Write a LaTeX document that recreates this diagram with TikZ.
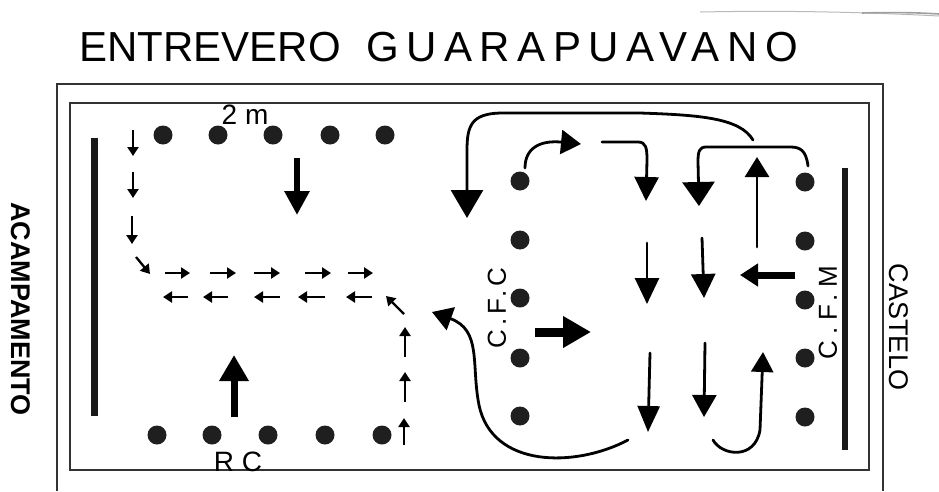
\documentclass[tikz,border=0pt]{standalone}
\usepackage{fontspec}
\setmainfont{Liberation Sans}
\usetikzlibrary{arrows.meta}

\tikzset{
  frameline/.style={line width=1.3pt, black!80},
  sideline/.style={line width=7pt, line cap=butt, black!90},
  player/.style={circle, fill=black!88, minimum size=19pt, inner sep=0pt},
  hand/.style={font=\fontsize{28}{30}\selectfont},
  sidelabel/.style={font=\fontsize{27}{29}\selectfont},
  tiny/.style={line width=2.3pt, -{Triangle[length=9pt,width=11pt]}},
  run/.style={line width=2.8pt, line cap=round},
}

\begin{document}
\begin{tikzpicture}[x=1pt, y=-1pt]
\useasboundingbox (0,0) rectangle (939,491);

% stray pencil strokes in the top corner
\draw[gray!55, line width=1pt] (700,12) .. controls (800,10) and (880,13) .. (939,16);
\draw[gray!75, line width=1.6pt] (862,13) .. controls (900,12) and (925,13) .. (939,14);

% title
\node[font=\fontsize{42}{46}\selectfont] (t1) at (210,47) {ENTREVERO};
\node[font=\fontsize{42}{46}\selectfont\addfontfeature{LetterSpace=18}] (t2) at (582,47) {GUARAPUAVANO};

% frames
\draw[frameline] (57,491) -- (57,84) -- (883,84) -- (883,491);
\draw[frameline] (70,103) rectangle (869,470);

% end lines
\draw[sideline] (94,138) -- (94,416);
\draw[sideline, line width=6pt] (845,168) -- (845,450);

% side labels
\node[sidelabel, font=\fontsize{27}{29}\selectfont\bfseries, rotate=-90] (acamp) at (21,309) {ACAMPAMENTO};
\node[sidelabel, rotate=-90] (cast) at (899,327) {CASTELO};

% players
\foreach \x [count=\i] in {163,218,273,330,385}
  \node[player] (m\i) at (\x,135) {};
\foreach \x [count=\i] in {157,212,268,325,382}
  \node[player] (r\i) at (\x,435) {};
\foreach \y [count=\i] in {181,240,298,358,416}
  \node[player] (cf\i) at (520,\y) {};
\foreach \y [count=\i] in {182,241,300,358,417}
  \node[player] (cm\i) at (805,\y) {};

% group labels
\node[hand] (lm) at (245,115) {2\hspace{8pt}m};
\node[hand] (lrc) at (238,462) {R C};
\node[hand, font=\fontsize{26}{28}\selectfont\addfontfeature{LetterSpace=15}, rotate=90] (lcfc) at (497,308) {C.F.C};
\node[hand, font=\fontsize{26}{28}\selectfont\addfontfeature{LetterSpace=25}, rotate=90] (lcfm) at (828,313) {C.F.M};

% left side: dotted route down, across and back
\draw[tiny] (133,130) -- (133,156);
\draw[tiny] (133,172) -- (133,198);
\draw[tiny] (132,216) -- (132,244);
\draw[tiny] (136,257) -- (150,274);
\foreach \a/\b in {165/190,210/236,254/280,305/331,348/373}
  \draw[tiny] (\a,273) -- (\b,273);
\foreach \a/\b in {188/163,228/203,280/254,325/298,372/346}
  \draw[tiny] (\a,297) -- (\b,297);
\draw[tiny] (404,314) -- (386,296);
\draw[tiny] (405,357) -- (405,327);
\draw[tiny] (405,402) -- (405,372);
\draw[tiny] (404,445) -- (404,418);

% left side: main advances
\draw[line width=6pt, -{Triangle[length=24pt,width=24pt]}] (297,158) -- (297,215);
\draw[line width=7pt, -{Triangle[length=26pt,width=28pt]}] (234,417) -- (234,355);

% right side: long loop over the top
\draw[run, -{Triangle[length=28pt,width=32pt]}]
  (753,140) .. controls (740,118) and (700,115) .. (640,113) -- (500,113)
  .. controls (472,114) and (467,125) .. (467,150) -- (467,218);
\draw[run, -{Triangle[length=20pt,width=24pt]}]
  (525,168) .. controls (525,148) and (540,140) .. (581,144);
\draw[run, -{Triangle[length=24pt,width=24pt]}]
  (602,142) -- (638,142) .. controls (646,142) and (647,148) .. (647,160) -- (646,201);
\draw[run, -{Triangle[length=24pt,width=32pt]}]
  (808,166) .. controls (806,150) and (800,147) .. (790,147) -- (706,147)
  .. controls (699,147) and (698,152) .. (698,162) -- (699,206);
\draw[run, -{Triangle[length=20pt,width=24pt]}] (757,247) -- (757,157);

% right side: middle row
\draw[run, -{Triangle[length=26pt,width=24pt]}] (647,243) -- (647,304);
\draw[run, -{Triangle[length=24pt,width=24pt]}] (702,238) -- (704,298);
\draw[line width=7pt, -{Triangle[length=18pt,width=22pt]}] (795,275) -- (740,275);
\draw[line width=9pt, -{Triangle[length=28pt,width=30pt]}] (535,332) -- (591,332);

% right side: bottom row
\draw[run, -{Triangle[length=26pt,width=22pt]}] (650,353) -- (648,432);
\draw[run, -{Triangle[length=22pt,width=24pt]}] (705,343) -- (704,417);
\draw[run, -{Triangle[length=20pt,width=22pt]}]
  (713,440) .. controls (722,456) and (755,460) .. (760,430) -- (763,352);
\draw[run, -{Triangle[length=20pt,width=24pt]}]
  (628,440) .. controls (575,468) and (492,468) .. (479,405)
  .. controls (471,365) and (482,330) .. (432,312);
\end{tikzpicture}
\end{document}
